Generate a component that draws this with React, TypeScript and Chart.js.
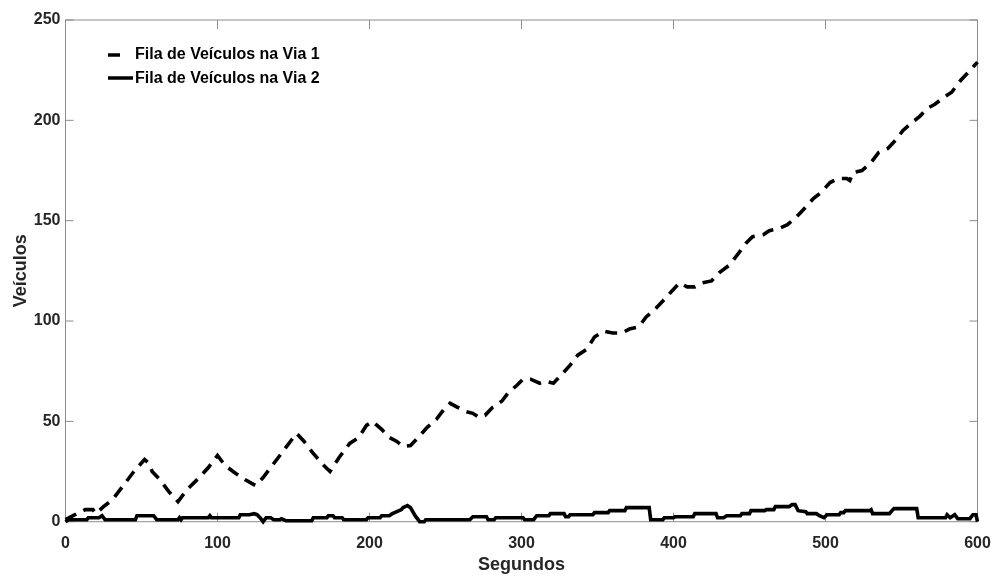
import React, { useEffect, useRef } from "react";
import { Chart, registerables } from "chart.js";

Chart.register(...registerables);

const seriesNames = ["Fila de Veículos na Via 1", "Fila de Veículos na Via 2"];
const xTitle = "Segundos";
const yTitle = "Veículos";

// Via 1 (dashed)
const via1Times = [0, 5, 13, 18, 20, 25, 31, 38, 45, 52, 55, 57, 62, 68, 74, 80, 88, 94, 100, 105, 112, 118, 125, 130, 137, 145, 152, 157, 163, 170, 174, 180, 187, 193, 198, 202, 208, 213, 218, 222, 227, 232, 238, 244, 249, 253, 258, 263, 268, 272, 276, 281, 287, 291, 297, 301, 306, 312, 316, 321, 326, 332, 337, 343, 348, 354, 360, 366, 371, 377, 382, 388, 393, 399, 404, 409, 414, 419, 425, 430, 437, 442, 448, 452, 459, 463, 469, 475, 481, 486, 492, 497, 503, 508, 514, 516, 518, 524, 530, 535, 541, 546, 551, 557, 562, 567, 572, 577, 583, 589, 594, 600];
const via1Values = [1, 3, 6, 6, 4, 7.5, 11, 18, 25, 31, 29, 25, 21, 15, 10, 16, 22, 27, 33, 28, 24, 21, 18, 22, 29, 37, 44, 40, 34, 28, 25, 32, 39, 42, 48, 50, 46, 42, 40, 37.5, 38, 42, 47, 51, 56, 59, 57, 55, 54, 52, 53, 57, 60, 64, 68, 71, 71, 69, 70, 69, 73, 78, 83, 86, 92, 95, 94, 94, 96, 97, 102, 106, 110, 115, 119, 117, 117, 119, 120, 124, 128, 133, 139, 142, 143, 145, 146, 148, 152, 156, 161, 164, 169, 171, 171, 170, 174, 175, 179, 184, 186, 190, 195, 199, 202, 206, 208, 211, 214, 220, 224, 229];

// Via 2 (solid)
const via2Times = [0, 2, 14, 15, 22, 24, 26, 46, 47, 58, 60, 74, 75, 76, 77, 94, 95, 96, 114, 115, 121, 124, 126, 128, 130, 132, 135, 137, 141, 142, 145, 162, 163, 172, 173, 176, 177, 182, 183, 198, 199, 207, 208, 213, 215, 218, 221, 222, 225, 227, 230, 233, 236, 237, 266, 268, 277, 278, 282, 283, 301, 302, 308, 310, 318, 319, 328, 329, 331, 332, 347, 348, 357, 358, 368, 369, 384, 385, 393, 394, 400, 401, 413, 414, 428, 429, 433, 435, 444, 445, 450, 451, 460, 461, 466, 467, 476, 478, 480, 482, 487, 488, 494, 496, 499, 501, 509, 510, 512, 513, 529, 530, 531, 542, 545, 560, 561, 579, 580, 582, 585, 587, 595, 597, 599, 600];
const via2Values = [0, 1, 1, 2, 2, 3, 1, 1, 3, 3, 1, 1, 2, 1, 2, 2, 3, 2, 2, 3.5, 3.5, 4, 3.5, 2, 0, 2, 2, 1, 1, 1.5, 0.5, 0.5, 2, 2, 3, 3, 2, 2, 1, 1, 2, 2, 3, 3, 4, 5, 6, 7, 8, 7, 3, 0, 0, 1, 1, 2.5, 2.5, 1, 1, 2, 2, 1, 1, 3, 3, 4, 4, 2.5, 2.5, 3.5, 3.5, 4.5, 4.5, 5.5, 5.5, 7, 7, 1, 1, 2, 2, 2.5, 2.5, 4, 4, 2, 2, 3, 3, 4, 4, 5.5, 5.5, 6, 6, 7.5, 7.5, 8.5, 8.5, 5.5, 5, 4, 4, 3, 2, 3.5, 3.5, 4.5, 4.5, 5.5, 5.5, 6, 4, 4, 6.5, 6.5, 2, 2, 3.5, 2, 3.5, 1.5, 1.5, 3.5, 3.5, 0];

const xTicks = [0, 100, 200, 300, 400, 500, 600];
const yTicks = [0, 50, 100, 150, 200, 250];

const FONT = "'Liberation Sans', Arial, Helvetica, sans-serif";

const framePlugin = {
  id: "frame",
  beforeDatasetsDraw(chart: any) {
    const { ctx, chartArea } = chart;
    const { left, right, top, bottom } = chartArea;
    const xs = chart.scales.x;
    const ys = chart.scales.y;
    ctx.save();
    ctx.strokeStyle = "#8c8c8c";
    ctx.lineWidth = 1;
    ctx.strokeRect(left, top, right - left, bottom - top);
    ctx.beginPath();
    for (const v of xTicks) {
      const px = xs.getPixelForValue(v);
      ctx.moveTo(px, bottom);
      ctx.lineTo(px, bottom - 9);
      ctx.moveTo(px, top);
      ctx.lineTo(px, top + 9);
    }
    for (const v of yTicks) {
      const py = ys.getPixelForValue(v);
      ctx.moveTo(left, py);
      ctx.lineTo(left + 8, py);
      ctx.moveTo(right, py);
      ctx.lineTo(right - 8, py);
    }
    ctx.stroke();
    ctx.restore();
  },
  afterDraw(chart: any) {
    const { ctx } = chart;
    ctx.save();
    ctx.strokeStyle = "#000";
    ctx.lineWidth = 3.5;
    ctx.lineCap = "butt";
    ctx.beginPath();
    ctx.moveTo(108, 55);
    ctx.lineTo(120, 55);
    ctx.moveTo(108, 78);
    ctx.lineTo(133, 78);
    ctx.stroke();
    ctx.fillStyle = "#000";
    ctx.font = `bold 16px ${FONT}`;
    ctx.textBaseline = "middle";
    ctx.textAlign = "left";
    ctx.fillText(seriesNames[0], 135, 55);
    ctx.fillText(seriesNames[1], 135, 79);
    ctx.restore();
  },
};

export default function App() {
  const ref = useRef<HTMLCanvasElement | null>(null);
  useEffect(() => {
    if (!ref.current) return;
    const chart = new Chart(ref.current, {
      type: "line",
      data: {
        datasets: [
          {
            label: seriesNames[0],
            data: via1Times.map((t, i) => ({ x: t, y: via1Values[i] })),
            borderColor: "#000",
            borderWidth: 3.6,
            borderDash: [12, 8],
            pointRadius: 0,
            tension: 0,
            fill: false,
            clip: 4,
          },
          {
            label: seriesNames[1],
            data: via2Times.map((t, i) => ({ x: t, y: via2Values[i] })),
            borderColor: "#000",
            borderWidth: 3.6,
            pointRadius: 0,
            tension: 0,
            fill: false,
            clip: 4,
          },
        ] as any,
      },
      options: {
        animation: false,
        responsive: false,
        devicePixelRatio: 1,
        layout: { padding: { top: 20, right: 22.5, bottom: 0, left: 0 } },
        plugins: { legend: { display: false }, tooltip: { enabled: false } },
        scales: {
          x: {
            type: "linear",
            min: 0,
            max: 600,
            grid: { display: false, drawTicks: false },
            border: { display: false },
            afterBuildTicks: (s: any) => {
              s.ticks = xTicks.map((v) => ({ value: v }));
            },
            afterFit: (s: any) => {
              s.height = 54.3;
              s.paddingLeft = 0;
              s.paddingRight = 0;
            },
            ticks: {
              color: "#262626",
              padding: 12,
              maxRotation: 0,
              font: { family: FONT, size: 16, weight: "bold" },
            },
            title: {
              display: true,
              text: xTitle,
              color: "#262626",
              padding: { top: 0, bottom: 0 },
              font: { family: FONT, size: 18, weight: "bold" },
            },
          },
          y: {
            type: "linear",
            min: 0,
            max: 250,
            grid: { display: false, drawTicks: false },
            border: { display: false },
            afterBuildTicks: (s: any) => {
              s.ticks = yTicks.map((v) => ({ value: v }));
            },
            afterFit: (s: any) => {
              s.width = 65.5;
              s.paddingTop = 0;
              s.paddingBottom = 0;
            },
            ticks: {
              color: "#262626",
              padding: 5,
              font: { family: FONT, size: 16, weight: "bold" },
            },
            title: {
              display: true,
              text: yTitle,
              color: "#262626",
              padding: { top: 10, bottom: 0 },
              font: { family: FONT, size: 18, weight: "bold" },
            },
          },
        },
      } as any,
      plugins: [framePlugin],
    });
    return () => chart.destroy();
  }, []);
  return (
    <div style={{ position: "absolute", left: 0, top: 0, width: 1000, height: 576, background: "#fff" }}>
      <canvas ref={ref} width={1000} height={576} />
    </div>
  );
}
